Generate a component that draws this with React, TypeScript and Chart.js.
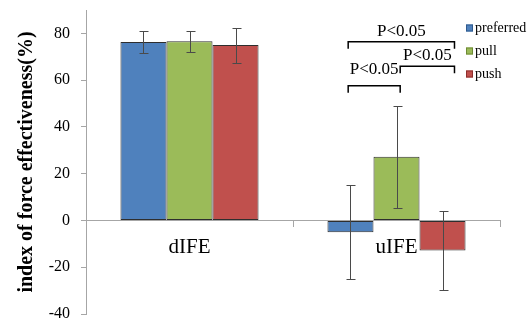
import React, { useEffect, useRef } from 'react';
import { Chart, registerables } from 'chart.js';

Chart.register(...registerables);

const categories = ['dIFE', 'uIFE'];
const seriesNames = ['preferred', 'pull', 'push'];
const preferredValues = [76.3, -5.0];
const pullValues = [76.6, 27.2];
const pushValues = [75.0, -12.8];
const preferredErrors = [4.9, 20.0];
const pullErrors = [4.6, 21.8];
const pushErrors = [7.5, 16.9];
const yTickValues = [-40, -20, 0, 20, 40, 60, 80];
const yMin = -40;
const yMax = 90;

// significance brackets drawn above the uIFE group (series index pairs)
const sigLabels = ['P<0.05', 'P<0.05', 'P<0.05'];
const sigFrom = [0, 1, 0];
const sigTo = [2, 2, 1];
const sigLevels = [76.4, 65.9, 57.6];
const sigLabelLevels = [78.7, 68.7, 62.8];

const SERIF = "'Liberation Serif', 'Times New Roman', serif";
const fills = ['#4F81BD', '#9BBB59', '#C0504D'];
const legendBorders = ['#2F5A8E', '#6E8A35', '#8E2F2C'];
const axisGray = '#a6a6a6';

export default function App() {
  const ref = useRef<HTMLCanvasElement>(null);

  useEffect(() => {
    document.body.style.margin = '0';
    const values = [preferredValues, pullValues, pushValues];
    const errors = [preferredErrors, pullErrors, pushErrors];

    const errorBarPlugin = {
      id: 'errorBars',
      afterDatasetsDraw(chart: any) {
        const ctx = chart.ctx;
        const ys = chart.scales.y;
        ctx.save();
        ctx.strokeStyle = '#4a4a4a';
        ctx.lineWidth = 1;
        chart.data.datasets.forEach((ds: any, di: number) => {
          const meta = chart.getDatasetMeta(di);
          meta.data.forEach((el: any, i: number) => {
            const v = values[di][i];
            const e = errors[di][i];
            const x = Math.round(el.x) + 0.5;
            const yTop = Math.round(ys.getPixelForValue(v + e)) + 0.5;
            const yBot = Math.round(ys.getPixelForValue(v - e)) + 0.5;
            ctx.beginPath();
            ctx.moveTo(x, yTop);
            ctx.lineTo(x, yBot);
            ctx.moveTo(x - 4, yTop);
            ctx.lineTo(x + 5, yTop);
            ctx.moveTo(x - 4, yBot);
            ctx.lineTo(x + 5, yBot);
            ctx.stroke();
          });
        });
        ctx.restore();
      },
    };

    const annotationPlugin = {
      id: 'annotations',
      afterDraw(chart: any) {
        const ctx = chart.ctx;
        const ys = chart.scales.y;
        const area = chart.chartArea;
        const fracs = [0.45, 0.58, 0.76];
        const xFor = (di: number) => {
          const el: any = chart.getDatasetMeta(di).data[1];
          return el.x - el.width / 2 + fracs[di] * el.width;
        };
        ctx.save();
        // brackets
        ctx.strokeStyle = '#000';
        ctx.lineWidth = 1.5;
        ctx.fillStyle = '#000';
        ctx.font = `17px ${SERIF}`;
        ctx.textAlign = 'center';
        ctx.textBaseline = 'alphabetic';
        sigLabels.forEach((label, k) => {
          const x1 = xFor(sigFrom[k]);
          const x2 = xFor(sigTo[k]);
          const y = ys.getPixelForValue(sigLevels[k]);
          ctx.beginPath();
          ctx.moveTo(x1, y + 7);
          ctx.lineTo(x1, y);
          ctx.lineTo(x2, y);
          ctx.lineTo(x2, y + 7);
          ctx.stroke();
          ctx.fillText(label, (x1 + x2) / 2, ys.getPixelForValue(sigLabelLevels[k]));
        });
        // legend
        ctx.font = `14px ${SERIF}`;
        ctx.textAlign = 'left';
        ctx.textBaseline = 'middle';
        const lx = area.right - 34;
        seriesNames.forEach((name, i) => {
          const cy = 28 + i * 23;
          ctx.fillStyle = fills[i];
          ctx.fillRect(lx, cy - 3.5, 7, 7);
          ctx.strokeStyle = legendBorders[i];
          ctx.lineWidth = 1;
          ctx.strokeRect(lx + 0.5, cy - 3, 6, 6);
          ctx.fillStyle = '#000';
          ctx.fillText(name, lx + 9, cy);
        });
        ctx.restore();
      },
    };

    const chart = new Chart(ref.current as HTMLCanvasElement, {
      type: 'bar',
      data: {
        labels: categories,
        datasets: seriesNames.map((name, i) => ({
          label: name,
          data: values[i],
          backgroundColor: fills[i],
          borderColor: '#2e2e2e',
          borderWidth: 1,
          borderSkipped: false,
          barPercentage: 1,
          categoryPercentage: 0.667,
        })),
      },
      options: {
        animation: false,
        responsive: true,
        maintainAspectRatio: false,
        layout: { padding: { top: 10, right: 31, bottom: 8, left: 0 } },
        plugins: {
          legend: { display: false },
          tooltip: { enabled: false },
        },
        scales: {
          x: {
            position: { y: 0 } as any,
            offset: true,
            grid: {
              drawOnChartArea: false,
              offset: true,
              tickLength: 6,
              tickColor: axisGray,
              color: axisGray,
            },
            border: { color: axisGray },
            ticks: { font: { family: SERIF, size: 21 }, color: '#000', padding: 8 },
            afterFit: (s: any) => {
              s.paddingLeft = 0;
              s.paddingRight = 0;
            },
          },
          y: {
            min: yMin,
            max: yMax,
            afterBuildTicks: (s: any) => {
              s.ticks = yTickValues.map((v) => ({ value: v }));
            },
            ticks: { font: { family: SERIF, size: 16 }, color: '#000', padding: 11 },
            grid: {
              drawOnChartArea: false,
              tickLength: 5,
              tickColor: axisGray,
              color: axisGray,
            },
            border: { color: axisGray },
            title: {
              display: true,
              text: 'index of force effectiveness(%)',
              font: { family: SERIF, size: 20, weight: 'bold' },
              color: '#000',
              padding: { top: 15, bottom: 0 },
            },
            afterFit: (s: any) => {
              s.width = 86;
              s.paddingTop = 0;
              s.paddingBottom = 0;
            },
          },
        },
      },
      plugins: [errorBarPlugin, annotationPlugin],
    });
    return () => chart.destroy();
  }, []);

  return (
    <div style={{ width: 531, height: 322, position: 'relative' }}>
      <canvas ref={ref} />
    </div>
  );
}
